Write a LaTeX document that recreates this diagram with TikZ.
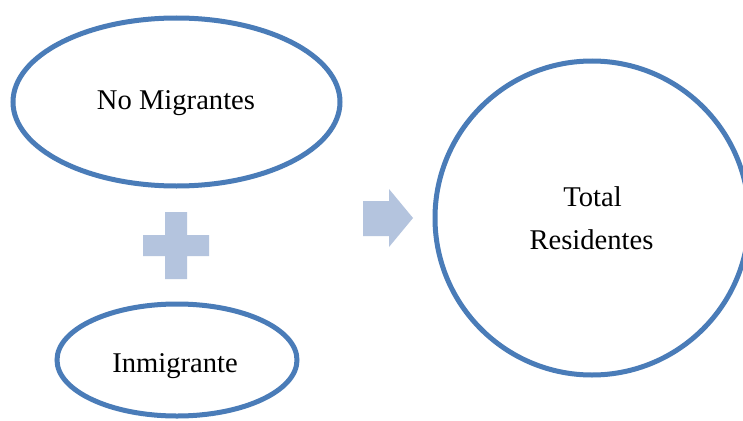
\documentclass[tikz,border=0pt]{standalone}
\usepackage{fontspec}
\setmainfont{Liberation Serif}
\usetikzlibrary{shapes.geometric}
\definecolor{ringblue}{RGB}{74,124,184}
\definecolor{lightblue}{RGB}{180,196,222}
\tikzset{
  ring/.style={draw=ringblue, line width=5pt, fill=white, inner sep=0pt, outer sep=0pt},
  oval/.style={ring, ellipse},
  roundring/.style={ring, circle},
  lbl/.style={anchor=base, inner sep=0pt, font=\fontsize{28.6}{34}\selectfont},
  sym/.style={fill=lightblue, draw=none}
}
\begin{document}
\begin{tikzpicture}[x=1pt, y=-1pt]
  \useasboundingbox (0,0) rectangle (743,420);
  \fill[white] (0,0) rectangle (743,420);
  % ovals
  \node[oval, minimum width=327pt, minimum height=168pt] (nomig) at (176.5,102) {};
  \node[oval, minimum width=240pt, minimum height=112pt] (inmig) at (177,360) {};
  \node[roundring, minimum size=314pt] (total) at (592,218) {};
  % labels
  \node[lbl] (tnomig) at (176,109) {No Migrantes};
  \node[lbl] (tinmig) at (175,372) {Inmigrante};
  \node[lbl] (ttotal) at (592.5,206) {Total};
  \node[lbl] (tres) at (591.5,249) {Residentes};
  % plus sign
  \fill[sym] (165,212) -- (187,212) -- (187,235) -- (209,235) -- (209,256) -- (187,256)
    -- (187,279) -- (165,279) -- (165,256) -- (143,256) -- (143,235) -- (165,235) -- cycle;
  % arrow
  \fill[sym] (363,201) -- (389,201) -- (389,189) -- (413,218) -- (389,247) -- (389,236)
    -- (363,236) -- cycle;
\end{tikzpicture}
\end{document}
